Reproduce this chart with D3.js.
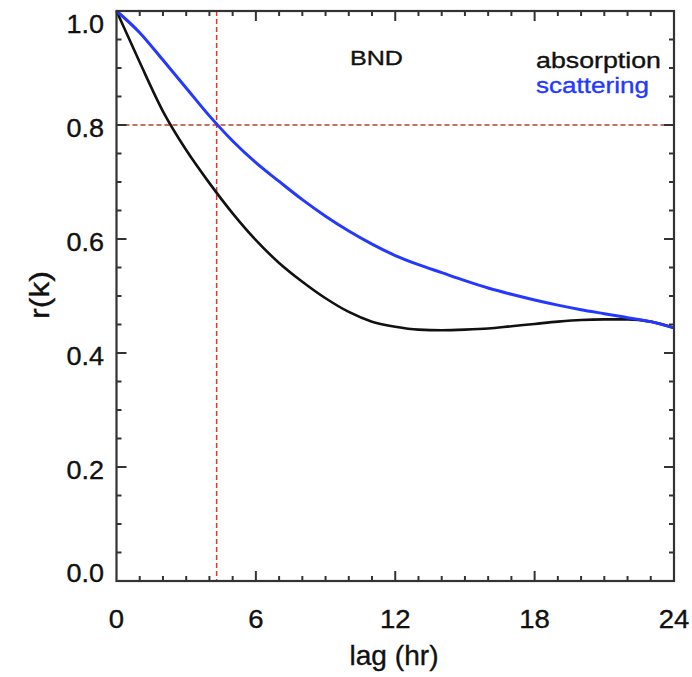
<!DOCTYPE html>
<html>
<head>
<meta charset="utf-8">
<script src="https://cdn.jsdelivr.net/npm/d3@7"></script>
<style>
  html, body { margin: 0; padding: 0; background: #fff; }
  svg { display: block; font-family: "Liberation Sans", Arial, Helvetica, sans-serif; }
  text { stroke-width: 0.35px; }
</style>
</head>
<body>
<svg id="chart" width="692" height="677"></svg>
<script>
// Lag in hours
const lags = d3.range(0, 25);
// Autocorrelation of absorption at each lag
const absorption = [1.0, 0.91, 0.824, 0.756, 0.698, 0.645, 0.598, 0.558, 0.525, 0.496, 0.472,
  0.455, 0.446, 0.441, 0.440, 0.441, 0.443, 0.447, 0.451, 0.455, 0.458, 0.459, 0.459, 0.455, 0.444];
// Autocorrelation of scattering at each lag
const scattering = [1.0, 0.962, 0.914, 0.865, 0.816, 0.772, 0.734, 0.701, 0.669, 0.64, 0.614,
  0.591, 0.571, 0.555, 0.541, 0.527, 0.514, 0.503, 0.493, 0.484, 0.476, 0.469, 0.462, 0.455, 0.444];
const xTickValues = [0, 6, 12, 18, 24];
const yTickValues = [0.0, 0.2, 0.4, 0.6, 0.8, 1.0];
const refR = 0.8;      // reference correlation level
const refLag = 4.31;   // lag at which scattering reaches the reference level
const stationName = "BND";
const seriesNames = ["absorption", "scattering"];
const seriesColors = ["#111111", "#2438ff"];

const svg = d3.select("#chart");
const m = { left: 116.5, right: 674, top: 11, bottom: 581 };
const x = d3.scaleLinear().domain([0, 24]).range([m.left, m.right]);
const y = d3.scaleLinear().domain([0, 1.0]).range([m.bottom, m.top]);

const axisColor = "#333";
const textColor = "#111";
const g = svg.append("g");

// Reference lines
g.append("line")
  .attr("x1", m.left).attr("x2", m.right)
  .attr("y1", y(refR)).attr("y2", y(refR))
  .attr("stroke", "#b8402c").attr("stroke-width", 1.5).attr("stroke-dasharray", "5,3");
g.append("line")
  .attr("x1", x(refLag)).attr("x2", x(refLag))
  .attr("y1", m.top).attr("y2", m.bottom)
  .attr("stroke", "#e8321e").attr("stroke-width", 1.5).attr("stroke-dasharray", "5,3");

// Correlation curves
const line = d3.line()
  .x((d, i) => x(lags[i]))
  .y(d => y(d))
  .curve(d3.curveMonotoneX);
const widths = [2.6, 3];
[absorption, scattering].forEach((series, i) => {
  g.append("path").datum(series)
    .attr("d", line)
    .attr("fill", "none")
    .attr("stroke", seriesColors[i])
    .attr("stroke-width", widths[i])
    .attr("stroke-linejoin", "round");
});

// Frame
g.append("rect")
  .attr("x", m.left).attr("y", m.top)
  .attr("width", m.right - m.left).attr("height", m.bottom - m.top)
  .attr("fill", "none").attr("stroke", axisColor).attr("stroke-width", 2.2);

// Tick marks on all four sides, pointing inward
const xMinor = d3.range(1, 24).filter(d => d % 6 !== 0);
const yMinor = d3.range(1, 20).map(d => d * 0.05).filter(d => Math.abs(d / 0.2 - Math.round(d / 0.2)) > 1e-6);
const tickG = g.append("g");
function addTick(x1, y1, x2, y2) {
  tickG.append("line")
    .attr("x1", x1).attr("y1", y1).attr("x2", x2).attr("y2", y2)
    .attr("stroke", axisColor).attr("stroke-width", 2);
}
function xTicks(vals, len) {
  vals.forEach(d => {
    addTick(x(d), m.bottom, x(d), m.bottom - len);
    addTick(x(d), m.top, x(d), m.top + len);
  });
}
function yTicks(vals, len) {
  vals.forEach(d => {
    addTick(m.left, y(d), m.left + len, y(d));
    addTick(m.right, y(d), m.right - len, y(d));
  });
}
xTicks(xMinor, 5);
xTicks(xTickValues.slice(1, -1), 10);
yTicks(yMinor, 5);
yTicks(yTickValues.slice(1, -1), 10);

// Tick labels
g.selectAll(null).data(xTickValues).join("text")
  .attr("transform", d => `translate(${x(d)},628) scale(1.1,1)`)
  .attr("text-anchor", "middle").attr("font-size", 25)
  .attr("fill", textColor).attr("stroke", textColor)
  .text(d => d3.format("d")(d));
function yLabelBase(d) {
  if (d === 1.0) return 33;
  if (d === 0.0) return 582;
  return y(d) + 12;
}
g.selectAll(null).data(yTickValues).join("text")
  .attr("transform", d => `translate(104,${yLabelBase(d)}) scale(1.08,1)`)
  .attr("text-anchor", "end").attr("font-size", 25)
  .attr("fill", textColor).attr("stroke", textColor)
  .text(d => d3.format(".1f")(d));

// Axis titles
g.append("text").attr("x", 394).attr("y", 665)
  .attr("text-anchor", "middle").attr("font-size", 28)
  .attr("fill", textColor).attr("stroke", textColor)
  .attr("textLength", 89).attr("lengthAdjust", "spacingAndGlyphs")
  .text("lag (hr)");
g.append("text").attr("transform", "translate(49,295) rotate(-90)")
  .attr("text-anchor", "middle").attr("font-size", 28)
  .attr("fill", textColor).attr("stroke", textColor)
  .attr("textLength", 48).attr("lengthAdjust", "spacingAndGlyphs")
  .text("r(k)");

// Station label and legend
g.append("text").attr("x", 350).attr("y", 65)
  .attr("font-size", 21)
  .attr("fill", textColor).attr("stroke", textColor)
  .attr("textLength", 53).attr("lengthAdjust", "spacingAndGlyphs")
  .text(stationName);
const legendLengths = [125, 113];
seriesNames.forEach((name, i) => {
  g.append("text").attr("x", 536).attr("y", 68 + i * 25)
    .attr("font-size", 22.5)
    .attr("fill", seriesColors[i]).attr("stroke", seriesColors[i])
    .attr("textLength", legendLengths[i]).attr("lengthAdjust", "spacingAndGlyphs")
    .text(name);
});
</script>
</body>
</html>
